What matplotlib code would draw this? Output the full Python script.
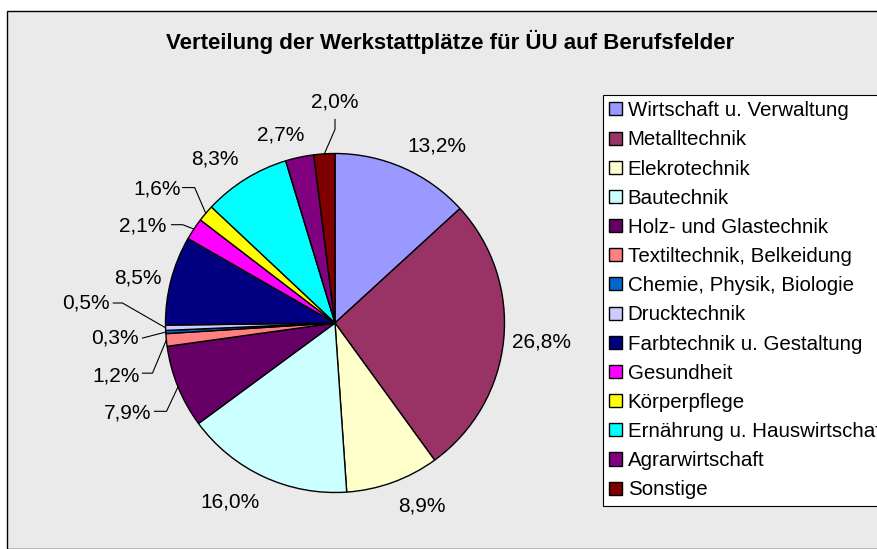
import numpy as np
import matplotlib
matplotlib.use("Agg")
import matplotlib.pyplot as plt
from matplotlib.patches import Patch, Rectangle

plt.rcParams['font.family'] = ['Liberation Sans', 'DejaVu Sans']

# ---- data ----
categories = ["Wirtschaft u. Verwaltung", "Metalltechnik", "Elekrotechnik", "Bautechnik",
              "Holz- und Glastechnik", "Textiltechnik, Belkeidung", "Chemie, Physik, Biologie",
              "Drucktechnik", "Farbtechnik u. Gestaltung", "Gesundheit", "Körperpflege",
              "Ernährung u. Hauswirtschaft", "Agrarwirtschaft", "Sonstige"]
values = [13.2, 26.8, 8.9, 16.0, 7.9, 1.2, 0.3, 0.5, 8.5, 2.1, 1.6, 8.3, 2.7, 2.0]
value_labels = ["13,2%", "26,8%", "8,9%", "16,0%", "7,9%", "1,2%", "0,3%", "0,5%",
                "8,5%", "2,1%", "1,6%", "8,3%", "2,7%", "2,0%"]
title = "Verteilung der Werkstattplätze für ÜU auf Berufsfelder"

# ---- style / layout ----
colors = ["#9999FF", "#993366", "#FFFFCC", "#CCFFFF", "#660066", "#FF8080", "#0066CC",
          "#CCCCFF", "#000080", "#FF00FF", "#FFFF00", "#00FFFF", "#800080", "#800000"]
# label centres in units of the pie radius
label_pos = [(0.602, 1.044), (1.221, -0.112), (0.513, -1.080), (-0.617, -1.056),
             (-1.224, -0.531), (-1.292, -0.313), (-1.301, -0.088), (-1.469, 0.118),
             (-1.162, 0.265), (-1.133, 0.572), (-1.047, 0.791), (-0.708, 0.968),
             (-0.319, 1.109), (0.0, 1.304)]
# leader lines: start point(s) near label (radius units); end at wedge edge
leaders = {
    13: [(0.0, 1.201), (0.0, 1.142)],
    10: [(-0.899, 0.799), (-0.828, 0.799)],
    9: [(-0.964, 0.580), (-0.899, 0.580)],
    7: [(-1.308, 0.118), (-1.254, 0.118)],
    6: [(-1.136, -0.089)],
    5: [(-1.136, -0.296), (-1.077, -0.296)],
    4: [(-1.065, -0.521), (-0.994, -0.521)],
}

W, H = 878, 549
fig = plt.figure(figsize=(W / 100, H / 100), dpi=100)
fig.patch.set_facecolor("white")

# chart area background with frame
bg = Rectangle((7 / W, 0), 1.2, 1 - 11 / H, transform=fig.transFigure,
               facecolor="#EAEAEA", edgecolor="black", linewidth=1.0, zorder=-5)
fig.patches.append(bg)

# pie axes: centre at (335, 323) px, radius 169.5 px
cx, cy, R = 335, 323, 169.5
half = 260
ax = fig.add_axes([(cx - half) / W, (H - cy - half) / H, 2 * half / W, 2 * half / H])
ax.set_zorder(1)
ax.patch.set_alpha(0)

wedges, _ = ax.pie(values, colors=colors, startangle=90, counterclock=False,
                   radius=1.0, wedgeprops=dict(edgecolor="black", linewidth=1.0))
ax.set_xlim(-half / R, half / R)
ax.set_ylim(-half / R, half / R)
ax.set_aspect("equal")
ax.axis("off")

for i, (lab, (x, y)) in enumerate(zip(value_labels, label_pos)):
    ax.text(x, y, lab, ha="center", va="center", fontsize=15, color="black")

for i, pts in leaders.items():
    w = wedges[i]
    mid = np.deg2rad((w.theta1 + w.theta2) / 2)
    end = (np.cos(mid), np.sin(mid))
    xs = [p[0] for p in pts] + [end[0]]
    ys = [p[1] for p in pts] + [end[1]]
    ax.plot(xs, ys, color="black", linewidth=0.8, clip_on=False)

fig.text(450 / W, 1 - 42 / H, title, ha="center", va="center",
         fontsize=16, fontweight="bold", zorder=2)

handles = [Patch(facecolor=c, edgecolor="black", linewidth=1.0) for c in colors]
leg = fig.legend(handles, categories, loc="upper left",
                 bbox_to_anchor=(603 / W, 1 - 95 / H), fontsize=14.8,
                 frameon=True, fancybox=False, edgecolor="black", facecolor="white",
                 framealpha=1, borderpad=0.3, labelspacing=0.495, handlelength=0.6,
                 handleheight=0.6, handletextpad=0.3, borderaxespad=0)
leg.get_frame().set_linewidth(0.8)
leg.set_zorder(3)

fig.savefig("out.png", dpi=100)
